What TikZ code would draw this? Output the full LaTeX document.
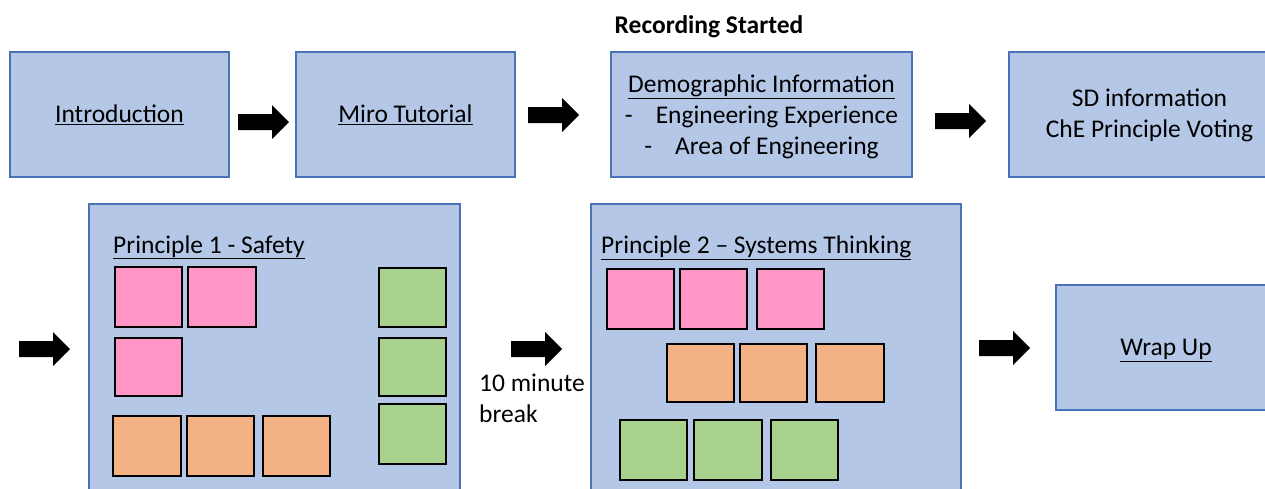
\documentclass[tikz,border=0pt]{standalone}
\usepackage{fontspec}
\setmainfont{Carlito}
\definecolor{boxfill}{HTML}{B4C7E7}
\definecolor{boxline}{HTML}{4A72B8}
\definecolor{notepink}{HTML}{FF96C5}
\definecolor{noteorange}{HTML}{F4B183}
\definecolor{notegreen}{HTML}{A9D18E}
\newcommand\stagefont{\fontsize{25.5}{31}\selectfont}
\tikzset{
  stage/.style={draw=boxline, fill=boxfill, line width=1.2pt, rectangle, inner sep=0pt,
    align=center, font=\stagefont},
  label text/.style={inner sep=0pt, font=\stagefont},
  note/.style={draw=black, line width=1.4pt},
  blockarrow/.style={fill=black},
}
\newcommand\stick[5]{\draw[note, fill=#1] (#2,#3) rectangle (#4,#5);}
\newcommand\barrow[2]{\fill[blockarrow] (#1,#2-8) -- ++(34,0) -- ++(0,-9) -- ++(17,17) -- ++(-17,17) -- ++(0,-9) -- ++(-34,0) -- cycle;}
\begin{document}
\begin{tikzpicture}[x=1pt,y=-1pt]
\useasboundingbox (0,0) rectangle (1265,488);
\clip (0,0) rectangle (1265,488);
\fill[white] (0,0) rectangle (1265,488);

% top row
\node[label text, font=\stagefont\bfseries, anchor=base] (rec) at (709,33) {Recording Started};
\node[stage, minimum width=219pt, minimum height=125pt] (intro) at (119.5,114.5) {\underline{Introduction}};
\node[stage, minimum width=219pt, minimum height=125pt] (miro) at (405.5,114.5) {\underline{Miro Tutorial}};
\node[stage, minimum width=301pt, minimum height=125pt] (demo) at (761.5,114.5) {};
\node[label text, align=center] (demot) at (761.5,117)
  {\underline{Demographic Information}\\-\hspace{23pt}Engineering Experience\\-\hspace{23pt}Area of Engineering};
\node[stage, minimum width=281pt, minimum height=125pt] (sd) at (1149.5,114.5) {};
\node[label text, align=center] (sdt) at (1149.5,115.5) {SD information\\ChE Principle Voting};
\barrow{238}{122}
\barrow{528}{115}
\barrow{935}{121}

% bottom row
\node[stage, minimum width=371pt, minimum height=306pt] (p1) at (274.5,357) {};
\node[label text, anchor=base west] (p1t) at (113,253) {\underline{Principle 1 - Safety}};
\stick{notepink}{115}{267}{182}{327}
\stick{notepink}{188}{267}{256}{327}
\stick{notepink}{115}{338}{182}{396}
\stick{noteorange}{113}{416}{181}{476}
\stick{noteorange}{187}{416}{254}{476}
\stick{noteorange}{263}{416}{330}{476}
\stick{notegreen}{379}{268}{446}{327}
\stick{notegreen}{379}{338}{446}{396}
\stick{notegreen}{379}{404}{446}{464}

\node[stage, minimum width=370pt, minimum height=306pt] (p2) at (776,357) {};
\node[label text, anchor=base west] (p2t) at (601,253) {\underline{Principle 2 – Systems Thinking}};
\stick{notepink}{607}{269}{674}{329}
\stick{notepink}{680}{269}{747}{329}
\stick{notepink}{757}{269}{824}{329}
\stick{noteorange}{667}{344}{734}{402}
\stick{noteorange}{740}{344}{807}{402}
\stick{noteorange}{816}{344}{884}{402}
\stick{notegreen}{620}{420}{687}{480}
\stick{notegreen}{694}{420}{762}{480}
\stick{notegreen}{771}{420}{838}{480}

\node[stage, minimum width=220pt, minimum height=125pt] (wrap) at (1166,347.5) {};
\node[label text] (wrapt) at (1166,350.5) {\underline{Wrap Up}};

\barrow{19}{349}
\barrow{511}{349}
\barrow{979}{348}
\node[label text, anchor=north west, align=left] (brk) at (479,374) {10 minute\\break};
\end{tikzpicture}
\end{document}
